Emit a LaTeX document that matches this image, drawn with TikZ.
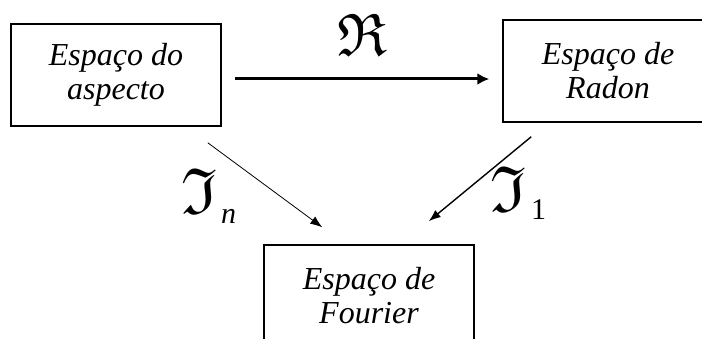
\documentclass[tikz,border=0pt]{standalone}
\usepackage{amssymb}
\usepackage{fontspec}
\setmainfont{Liberation Serif}
\usetikzlibrary{arrows.meta,positioning}
\tikzset{
 box/.style={draw=black,line width=1.5pt,minimum width=210pt,minimum height=102pt,align=center,inner sep=0pt,font=\fontsize{32}{34}\selectfont\itshape},
 arrow/.style={-{Latex[length=12pt,width=12pt]},line width=3pt},
 diag/.style={-{Latex[length=12pt,width=9pt]},line width=#1},
 sym/.style={inner sep=0pt},
 sub/.style={inner sep=0pt,anchor=base west,font=\fontsize{30}{30}\selectfont}
}
\newcommand{\bigfrak}[2]{\scalebox{#1}{$\mathfrak{#2}$}}

\begin{document}
\begin{tikzpicture}[x=1pt,y=-1pt]
\useasboundingbox (0,0) rectangle (702,339);
\node[box] (aspecto) at (116,75) {Espaço do\\aspecto};
\node[box] (radon) at (608,71) {Espaço de\\Radon};
\node[box] (fourier) at (369,296) {Espaço de\\Fourier};
\draw[arrow] ([shift={(13,4)}]aspecto.east) -- ([shift={(-13,8)}]radon.west);
\draw[diag=0.8pt] ([shift={(-14,16)}]aspecto.south east) -- ([shift={(59,-17)}]fourier.north west);
\draw[diag=1.4pt] ([shift={(29,14)}]radon.south west) -- ([shift={(-46,-23)}]fourier.north east);
\node[sym] (radmap) at (362,35) {\bigfrak{6}{R}};
\node[sym] (fourn) at (200,191) {\bigfrak{6.5}{I}};
\node[sub] (subn) at (221,224) {\textit{n}};
\node[sym] (four1) at (509,189) {\bigfrak{6.5}{I}};
\node[sub] (sub1) at (531,220) {1};
\end{tikzpicture}
\end{document}
